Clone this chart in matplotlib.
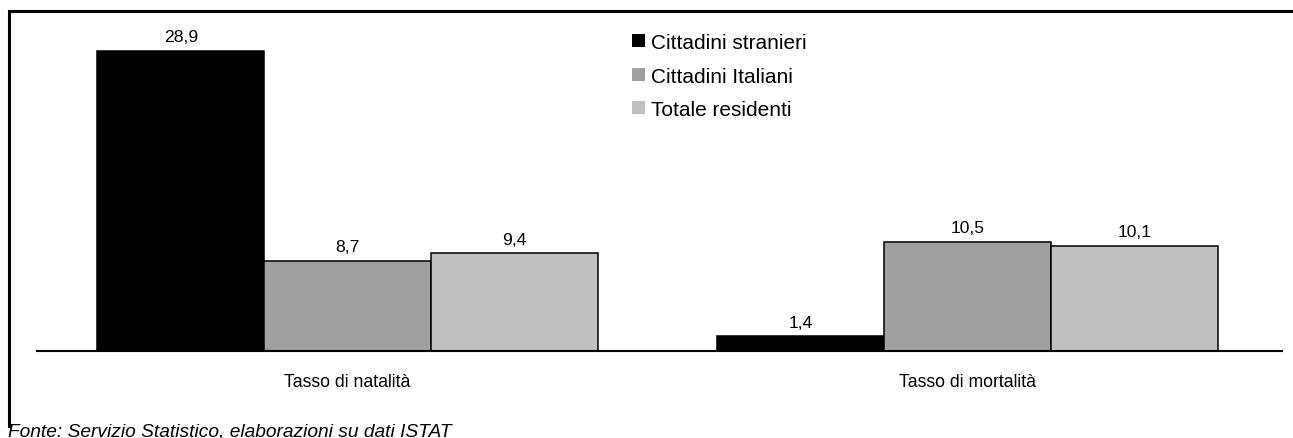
import matplotlib
matplotlib.use("Agg")
import matplotlib.pyplot as plt
from matplotlib.patches import Patch
from matplotlib.lines import Line2D
import numpy as np

plt.rcParams['font.family'] = ['Liberation Sans', 'DejaVu Sans']

# Data
categories = ["Tasso di natalità", "Tasso di mortalità"]
series = ["Cittadini stranieri", "Cittadini Italiani", "Totale residenti"]
stranieri = [28.9, 1.4]
italiani = [8.7, 10.5]
totale = [9.4, 10.1]
values = [stranieri, italiani, totale]
colors = ["#000000", "#a0a0a0", "#c0c0c0"]

W, H = 1293, 439
fig = plt.figure(figsize=(W / 100, H / 100), dpi=100)

# axes placed in pixel coords
ax_left, ax_right, ax_bottom, ax_top = 37, 1282, 352, 20
ax = fig.add_axes([ax_left / W, 1 - ax_bottom / H,
                   (ax_right - ax_left) / W, (ax_bottom - ax_top) / H])

x = np.arange(len(categories))
width = 0.269
for i, (vals, col) in enumerate(zip(values, colors)):
    pos = x + (i - 1) * width
    bars = ax.bar(pos, vals, width, color=col, edgecolor="black",
                  linewidth=1.1, label=series[i], zorder=2)
    for b, v in zip(bars, vals):
        ax.annotate(f"{v:.1f}".replace(".", ","),
                    (b.get_x() + b.get_width() / 2, v),
                    xytext=(0, 5), textcoords="offset points",
                    ha="center", va="bottom", fontsize=12.6)

ax.set_xlim(-0.501, 1.507)
ax.set_ylim(0, 32)
ax.set_xticks(x)
ax.set_xticklabels(categories, fontsize=12.7)
ax.tick_params(axis="x", length=0, pad=16)
ax.set_yticks([])
for s in ["top", "right", "left"]:
    ax.spines[s].set_visible(False)
ax.spines["bottom"].set_linewidth(1.5)
ax.spines["bottom"].set_zorder(3)

handles = [Patch(facecolor=c, edgecolor="none") for c in colors]
fig.legend(handles, series, loc="upper left",
           bbox_to_anchor=(632 / W, 1 - 34 / H),
           frameon=False, fontsize=15, handlelength=0.6, handleheight=0.6,
           handletextpad=0.3, labelspacing=0.7, borderpad=0, borderaxespad=0)

# outer frame (left and top edges only)
fig.add_artist(Line2D([8.5 / W, 8.5 / W, 1.0], [1 - 427 / H, 1 - 12 / H, 1 - 12 / H],
                      transform=fig.transFigure, color="black", linewidth=2.2,
                      solid_joinstyle="miter"))

fig.text(8 / W, 1 - 424 / H, "Fonte: Servizio Statistico, elaborazioni su dati ISTAT",
         ha="left", va="top", fontsize=13.8, style="italic")

fig.savefig("out.png", dpi=100)
